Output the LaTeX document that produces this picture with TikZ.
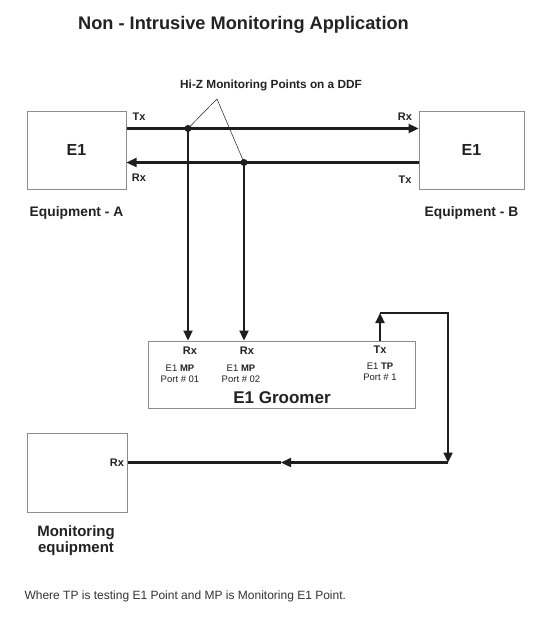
\documentclass[tikz,border=0pt]{standalone}
\usepackage{fontspec}
\setmainfont{Liberation Sans}
\usetikzlibrary{arrows.meta,positioning}
\definecolor{wire}{HTML}{1E1E1E}
\definecolor{frame}{HTML}{8C8C8C}
\definecolor{ink}{HTML}{222222}

\begin{document}
\begin{tikzpicture}[x=1pt,y=-1pt,text=ink,font=\bfseries,
    equip/.style = {draw=frame, line width=1pt, rectangle, inner sep=0pt, font=\bfseries\fontsize{16}{19}\selectfont},
    wire/.style = {draw=wire, line width=2.3pt},
    arr/.style = {-{Triangle[length=10pt,width=9pt]}},
    lead/.style = {draw=wire, line width=0.5pt},
    port/.style = {font=\bfseries\fontsize{11}{12}\selectfont},
    small/.style = {font=\fontsize{9.5}{11}\selectfont, align=center},
    dot/.style = {circle, fill=wire, inner sep=0pt, minimum size=7pt}]
    \fill[white] (0,0) rectangle (541,629);
    \useasboundingbox (0,0) rectangle (541,629);
    \node[font=\bfseries\fontsize{18.2}{22}\selectfont] (title) at (243.5,24.5) {Non - Intrusive Monitoring Application};
    % equipment boxes
    \node[equip, minimum width=99pt, minimum height=78pt] (eqA) at (76.5,150) {E1};
    \node[equip, minimum width=105pt, minimum height=78pt] (eqB) at (471.5,150) {E1};
    \node[equip, minimum width=267pt, minimum height=67pt] (grm) at (281.5,374.5) {};
    \node[equip, minimum width=100pt, minimum height=79pt] (mon) at (77,472.5) {};
    \node[font=\bfseries\fontsize{13.8}{16}\selectfont] (eqAlbl) [below=13.5pt of eqA] {Equipment - A};
    \node[font=\bfseries\fontsize{13.8}{16}\selectfont] (eqBlbl) [below=13.5pt of eqB] {Equipment - B};
    \node[font=\bfseries\fontsize{15}{16}\selectfont, align=center] (monlbl) at (76,541) {Monitoring\\equipment};
    \node[font=\bfseries\fontsize{11.8}{14}\selectfont] (hiz) at (271,85) {Hi-Z Monitoring Points on a DDF};
    % DDF lines
    \coordinate (mp1) at (188,128.5);
    \coordinate (mp2) at (244,162.5);
    \coordinate (apex) at (217,99);
    \draw[wire,arr] (eqA.east |- mp1) -- (mp1 -| eqB.west);
    \draw[wire,arr] (eqB.west |- mp2) -- (mp2 -| eqA.east);
    \draw[wire,arr] (mp1) -- (mp1 |- grm.north);
    \draw[wire,arr] (mp2) -- (mp2 |- grm.north);
    \draw[lead] (apex) -- (mp1);
    \draw[lead] (apex) -- (mp2);
    \node[dot] (mp1dot) at (mp1) {};
    \node[dot] (mp2dot) at (mp2) {};
    \node[port] (txA) at (139,117) {Tx};
    \node[port] (rxA) at (139,178) {Rx};
    \node[port] (rxB) at (405,117) {Rx};
    \node[port] (txB) at (405,180) {Tx};
    % groomer ports
    \node[port] (rx1) at (190,351) {Rx};
    \node[port] (rx2) at (247,351) {Rx};
    \node[port] (tx1) at (380,350) {Tx};
    \node[small] (mp1lbl) at (180,373.5) {E1 \textbf{MP}\\Port \# 01};
    \node[small] (mp2lbl) at (241,373.5) {E1 \textbf{MP}\\Port \# 02};
    \node[small] (tplbl) at (380,372) {E1 \textbf{TP}\\Port \# 1};
    \node[font=\bfseries\fontsize{17}{20}\selectfont] (grmlbl) at (282,398) {E1 Groomer};
    % loop to monitoring equipment
    \coordinate (tp) at (380,313);
    \coordinate (loop) at (448,462.5);
    \coordinate (mid) at (281,462.5);
    \draw[wire,arr] (tp |- grm.north) -- (tp);
    \draw[wire,arr] (tp) -- (tp -| loop) -- (loop);
    \draw[wire,arr] (loop) -- (mid);
    \draw[wire] (mid) -- (mid -| mon.east);
    \node[port, anchor=east] (monrx) at (mid -| mon.east) {Rx};
    \node[font=\fontsize{12}{14}\selectfont, anchor=west, text=black!80] (note) at (21,596) {Where TP is testing E1 Point and MP is Monitoring E1 Point.};
\end{tikzpicture}
\end{document}
